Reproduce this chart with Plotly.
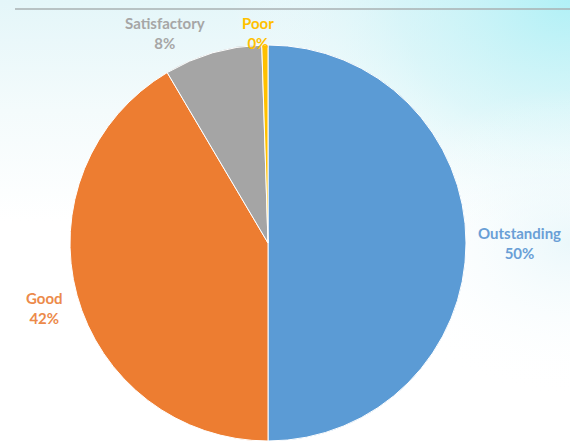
import plotly.graph_objects as go
import base64

categories = ["Outstanding", "Good", "Satisfactory", "Poor"]
values = [50, 41.5, 8, 0.5]
pct_labels = ["50%", "42%", "8%", "0%"]
colors = ["#5b9bd5", "#ed7d31", "#a5a5a5", "#ffc000"]
label_colors = ["#6a9fd6", "#ec8a4a", "#a6a6a6", "#ffc000"]

W, H = 570, 443
L, R, T, B = 70, 104, 45, 2

svg = f'''<svg xmlns="http://www.w3.org/2000/svg" width="{W}" height="{H}" preserveAspectRatio="none">
<defs>
<linearGradient id="v" x1="0" y1="0" x2="0" y2="1">
<stop offset="0" stop-color="#e4f6f9"/>
<stop offset="0.25" stop-color="#f4fbfc"/>
<stop offset="0.5" stop-color="#ffffff"/>
<stop offset="1" stop-color="#ffffff"/>
</linearGradient>
<radialGradient id="tr" cx="1" cy="0" r="0.6">
<stop offset="0" stop-color="#aef0f6" stop-opacity="0.95"/>
<stop offset="0.5" stop-color="#c9f3f7" stop-opacity="0.5"/>
<stop offset="1" stop-color="#ffffff" stop-opacity="0"/>
</radialGradient>
<radialGradient id="rr" cx="1" cy="0.55" r="0.35">
<stop offset="0" stop-color="#e6f6fa" stop-opacity="0.8"/>
<stop offset="1" stop-color="#ffffff" stop-opacity="0"/>
</radialGradient>
</defs>
<rect width="100%" height="100%" fill="url(#v)"/>
<rect width="100%" height="100%" fill="url(#tr)"/>
<rect width="100%" height="100%" fill="url(#rr)"/>
</svg>'''
bg_uri = "data:image/svg+xml;base64," + base64.b64encode(svg.encode()).decode()

fig = go.Figure(go.Pie(
    labels=categories,
    values=values,
    sort=False,
    direction="clockwise",
    rotation=0,
    marker=dict(colors=colors, line=dict(color="#ffffff", width=1)),
    textinfo="none",
    hoverinfo="label+percent",
    showlegend=False,
    domain=dict(x=[0, 1], y=[0, 1]),
))

pw, ph = W - L - R, H - T - B
label_px = [(519, 243), (44, 308), (165, 33), (258, 33)]
for cat, pct, col, (px, py) in zip(categories, pct_labels, label_colors, label_px):
    fig.add_annotation(
        x=(px - L) / pw, y=(H - B - py) / ph, xref="paper", yref="paper",
        text=f"<b>{cat}</b><br><b>{pct}</b>", showarrow=False,
        font=dict(family="Lato", size=15, color=col),
        xanchor="center", yanchor="middle", align="center",
    )

fig.add_layout_image(dict(
    source=bg_uri, xref="paper", yref="paper",
    x=-L / pw, y=1 + T / ph, sizex=W / pw, sizey=H / ph,
    xanchor="left", yanchor="top", sizing="stretch", layer="below",
))

fig.add_shape(type="line", xref="paper", yref="paper",
              x0=(15 - L) / pw, x1=(W - L) / pw,
              y0=(H - B - 9) / ph, y1=(H - B - 9) / ph,
              line=dict(color="#a9b0b2", width=1.5))

fig.update_layout(
    width=W, height=H,
    margin=dict(l=L, r=R, t=T, b=B),
    paper_bgcolor="#ffffff",
    plot_bgcolor="rgba(0,0,0,0)",
)

fig.write_html("out.html",
               config={"displayModeBar": False},
               post_script="document.body.style.margin='0';document.body.style.overflow='hidden';")
